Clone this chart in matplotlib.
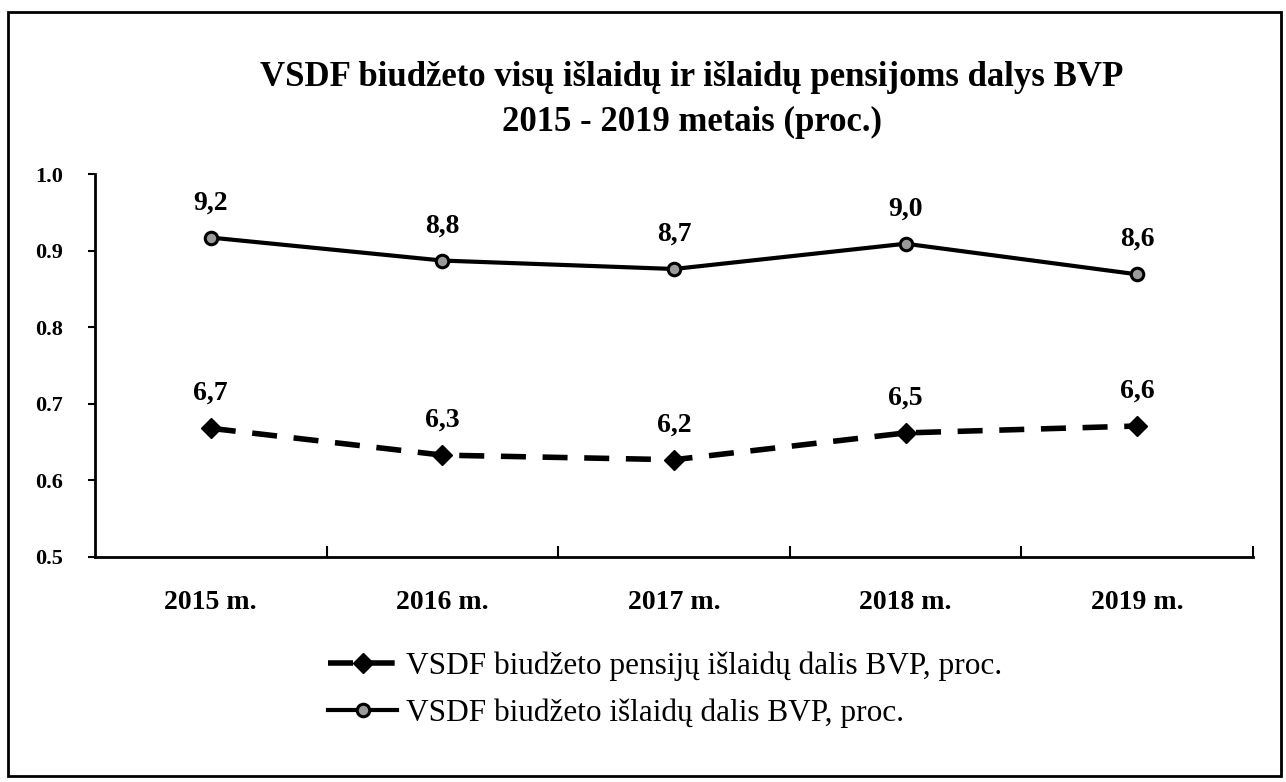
import matplotlib
matplotlib.use("Agg")
import matplotlib.pyplot as plt
from matplotlib.patches import Rectangle

years = ["2015 m.", "2016 m.", "2017 m.", "2018 m.", "2019 m."]
total_share = [0.917, 0.887, 0.876, 0.909, 0.869]
total_labels = ["9,2", "8,8", "8,7", "9,0", "8,6"]
pension_share = [0.668, 0.633, 0.627, 0.662, 0.671]
pension_labels = ["6,7", "6,3", "6,2", "6,5", "6,6"]
yticks = [0.5, 0.6, 0.7, 0.8, 0.9, 1.0]
title = "VSDF biudžeto visų išlaidų ir išlaidų pensijoms dalys BVP\n2015 - 2019 metais (proc.)"
legend_pension = "VSDF biudžeto pensijų išlaidų dalis BVP, proc."
legend_total = "VSDF biudžeto išlaidų dalis BVP, proc."

plt.rcParams['font.family'] = ['Liberation Serif', 'DejaVu Serif']

fig = plt.figure(figsize=(12.86, 7.82), dpi=100)
ax = fig.add_axes([95/1286, 1-557/782, (1253-95)/1286, (557-174)/782])

x = list(range(len(years)))
lp, = ax.plot(x, pension_share, color='black', lw=4, linestyle=(0, (4.5, 3)),
              marker='D', markersize=10, markerfacecolor='black', markeredgecolor='black',
              label=legend_pension)
lt, = ax.plot(x, total_share, color='black', lw=3, marker='o', markersize=9,
              markerfacecolor='#9a9a9a', markeredgecolor='black', markeredgewidth=2.2,
              label=legend_total)

for xi, v, t in zip(x, total_share, total_labels):
    ax.annotate(t, (xi, v), xytext=(0, 16), textcoords='offset points',
                ha='center', va='bottom', fontsize=20, fontweight='bold')
for xi, v, t in zip(x, pension_share, pension_labels):
    ax.annotate(t, (xi, v), xytext=(0, 16), textcoords='offset points',
                ha='center', va='bottom', fontsize=20, fontweight='bold')

ax.set_xlim(-0.5, len(years) - 0.5)
ax.set_ylim(0.5, 1.0)
ax.set_yticks(yticks)
ax.set_yticklabels([f"{v:.1f}" for v in yticks], fontsize=16, fontweight='bold')
ax.set_xticks(x)
ax.set_xticklabels(years, fontsize=20, fontweight='bold')
ax.tick_params(axis='x', length=0, pad=24)
ax.set_xticks([i + 0.5 for i in x], minor=True)
ax.tick_params(axis='x', which='minor', direction='in', length=8, width=1.5)
ax.tick_params(axis='y', direction='out', length=5, width=1.5, pad=18)
for s in ['top', 'right']:
    ax.spines[s].set_visible(False)
for s in ['left', 'bottom']:
    ax.spines[s].set_linewidth(2)

fig.text(0.538, 1 - 100/782, title, ha='center', va='center', fontsize=25,
         fontweight='bold', linespacing=1.45)

leg = fig.legend(handles=[lp, lt], loc='upper left', bbox_to_anchor=(300/1286, 1 - 623/782),
                 frameon=False, fontsize=22.5, handlelength=2.2, handletextpad=0.3,
                 labelspacing=0.58)

fig.patches.append(Rectangle((8/1286, 1 - 776/782), (1281-8)/1286, (776-12)/782,
                             transform=fig.transFigure, fill=False, lw=2, ec='black'))

fig.savefig("out.png", dpi=100)
